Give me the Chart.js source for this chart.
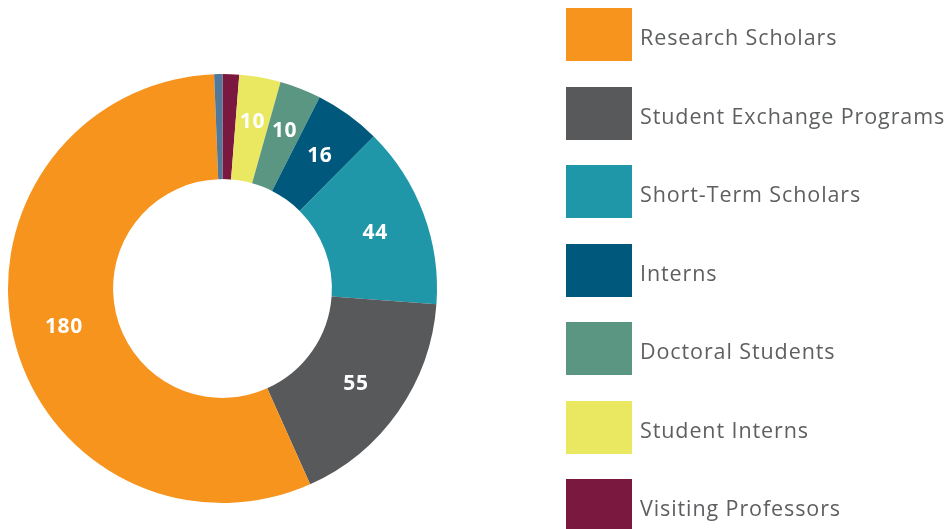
<!DOCTYPE html>
<html>
<head>
<meta charset="utf-8">
<script src="https://cdn.jsdelivr.net/npm/chart.js@4.4.1/dist/chart.umd.min.js"></script>
<style>
  html, body { margin: 0; padding: 0; background: #ffffff; overflow: hidden; }
  #wrap { position: relative; width: 945px; height: 529px; overflow: hidden; }
  #c { position: absolute; left: 0; top: 0; }
  #legend { position: absolute; left: 566px; top: 8px; margin: 0; padding: 0; list-style: none; }
  #legend li { display: flex; align-items: center; height: 53px; margin: 0 0 25.5px 0; }
  #legend .box { width: 66px; height: 53px; flex: none; }
  #legend .txt { margin-left: 8px; font-family: "Open Sans", sans-serif; font-size: 21.5px; letter-spacing: 0.9px; color: #5e5f61; white-space: nowrap; transform: translateY(1.5px); }
</style>
</head>
<body>
<div id="wrap">
  <canvas id="c" width="945" height="529"></canvas>
  <ul id="legend"></ul>
</div>
<script>
// Data (legend order)
const categories = ['Research Scholars', 'Student Exchange Programs', 'Short-Term Scholars', 'Interns', 'Doctoral Students', 'Student Interns', 'Visiting Professors', 'Other'];
const values = [180, 55, 44, 16, 10, 10, 4, 2];
const colors = ['#F7941E', '#58595B', '#2097A9', '#00597C', '#5A9682', '#EAE760', '#7B1840', '#53799A'];
const legendCount = 7; // items visible in the legend
// clockwise drawing order starting from 12 o'clock
const drawOrder = [6, 5, 4, 3, 2, 1, 0, 7];
const labelMin = 10; // values shown as labels inside slices

// HTML legend built from the arrays
const ul = document.getElementById('legend');
categories.slice(0, legendCount).forEach((name, i) => {
  const li = document.createElement('li');
  const b = document.createElement('span'); b.className = 'box'; b.style.background = colors[i];
  const t = document.createElement('span'); t.className = 'txt'; t.textContent = name;
  li.appendChild(b); li.appendChild(t); ul.appendChild(li);
});

const sliceLabels = {
  id: 'sliceLabels',
  afterDatasetsDraw(chart) {
    const ctx = chart.ctx;
    const meta = chart.getDatasetMeta(0);
    const ds = chart.data.datasets[0];
    ctx.save();
    ctx.fillStyle = '#ffffff';
    ctx.font = 'bold 21px "Open Sans", sans-serif';
    if ('letterSpacing' in ctx) ctx.letterSpacing = '0.6px';
    ctx.textAlign = 'center';
    ctx.textBaseline = 'middle';
    meta.data.forEach((arc, i) => {
      const v = ds.data[i];
      if (v < labelMin) return;
      const p = arc.getProps(['x', 'y', 'startAngle', 'endAngle', 'innerRadius', 'outerRadius']);
      const mid = (p.startAngle + p.endAngle) / 2;
      const span = p.endAngle - p.startAngle;
      let r = (p.innerRadius + p.outerRadius) / 2;
      if (span < 0.25) r += 9; else if (span < 0.4) r += 4; else r += 1;
      ctx.fillText(String(v), p.x + Math.cos(mid) * r, p.y + Math.sin(mid) * r + 1.5);
    });
    ctx.restore();
  }
};

new Chart(document.getElementById('c'), {
  type: 'doughnut',
  data: {
    labels: drawOrder.map(i => categories[i]),
    datasets: [{
      data: drawOrder.map(i => values[i]),
      backgroundColor: drawOrder.map(i => colors[i]),
      borderWidth: 0
    }]
  },
  options: {
    responsive: false,
    animation: false,
    cutout: '51%',
    layout: { padding: { left: 8, top: 74, right: 508, bottom: 26 } },
    plugins: { legend: { display: false }, tooltip: { enabled: false } }
  },
  plugins: [sliceLabels]
});
</script>
</body>
</html>
